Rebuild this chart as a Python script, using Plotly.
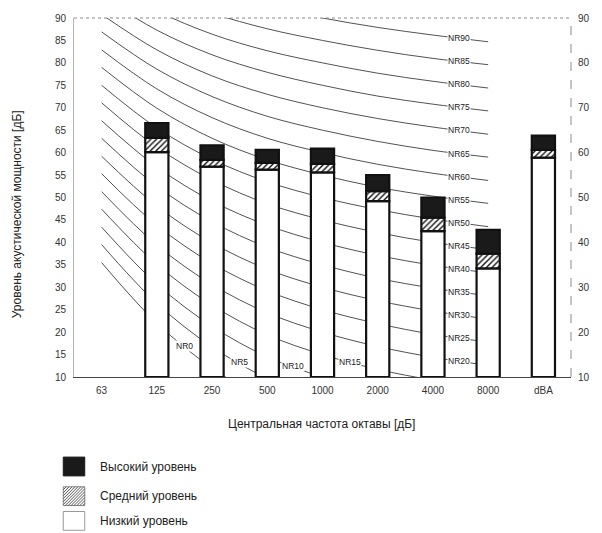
import plotly.graph_objects as go

# ---------------- data ----------------
categories = ["63", "125", "250", "500", "1000", "2000", "4000", "8000", "dBA"]

# stacked levels (top of each band, dB); no bar at 63 Hz
low_level = [None, 60.1, 56.9, 56.2, 55.6, 49.2, 42.5, 34.2, 58.9]
mid_level = [None, 63.3, 58.4, 57.7, 57.5, 51.4, 45.5, 37.5, 60.6]
high_level = [None, 66.6, 61.6, 60.6, 60.9, 55.0, 50.0, 42.8, 63.8]

# NR curves: sound level per octave band 63..8000 Hz
nr_names = ["NR0", "NR5", "NR10", "NR15", "NR20", "NR25", "NR30", "NR35", "NR40",
            "NR45", "NR50", "NR55", "NR60", "NR65", "NR70", "NR75", "NR80", "NR85", "NR90"]
nr_table = [
    [35.5, 22.0, 12.0, 4.8, 0.0, -3.5, -6.1, -8.0],
    [39.5, 26.4, 16.7, 9.7, 5.0, 1.6, -1.0, -2.9],
    [43.4, 30.7, 21.3, 14.5, 10.0, 6.7, 4.2, 2.3],
    [47.4, 35.1, 26.0, 19.4, 15.0, 11.7, 9.3, 7.5],
    [51.3, 39.4, 30.6, 24.3, 20.0, 16.8, 14.4, 12.6],
    [55.3, 43.8, 35.3, 29.2, 25.0, 21.9, 19.5, 17.8],
    [59.2, 48.1, 39.9, 34.0, 30.0, 27.0, 24.7, 22.9],
    [63.2, 52.5, 44.6, 38.9, 35.0, 32.0, 29.8, 28.1],
    [67.1, 56.8, 49.2, 43.8, 40.0, 37.1, 34.9, 33.2],
    [71.1, 61.2, 53.9, 48.6, 45.0, 42.2, 40.0, 38.4],
    [75.0, 65.5, 58.5, 53.5, 50.0, 47.3, 45.2, 43.5],
    [79.0, 69.9, 63.2, 58.4, 55.0, 52.3, 50.3, 48.7],
    [82.9, 74.2, 67.8, 63.2, 60.0, 57.4, 55.4, 53.8],
    [86.9, 78.6, 72.5, 68.1, 65.0, 62.5, 60.5, 59.0],
    [90.8, 82.9, 77.1, 73.0, 70.0, 67.6, 65.7, 64.1],
    [94.8, 87.3, 81.8, 77.9, 75.0, 72.6, 70.8, 69.3],
    [98.7, 91.6, 86.4, 82.7, 80.0, 77.7, 75.9, 74.4],
    [102.7, 96.0, 91.1, 87.6, 85.0, 82.8, 81.0, 79.6],
    [106.6, 100.3, 95.7, 92.5, 90.0, 87.9, 86.2, 84.7],
]
# band index (between two octaves) where each curve carries its label
nr_label_pos = [1.5, 2.49, 3.46, 4.5] + [6.47] * 15

y_title = "Уровень акустической мощности [дБ]"
x_title = "Центральная частота октавы [дБ]"
legend_names = ["Высокий уровень", "Средний уровень", "Низкий уровень"]

FONT = "Liberation Sans, Arial, sans-serif"
TXT = "#333333"

fig = go.Figure()

# ---------------- NR curves (main axes, drawn under the bars) ----------------
band_x = list(range(8))
for name, vals in zip(nr_names, nr_table):
    fig.add_trace(go.Scatter(
        x=band_x, y=vals, mode="lines",
        line=dict(color="#262626", width=0.8, shape="spline", smoothing=1.0),
        hoverinfo="skip", showlegend=False, xaxis="x", yaxis="y"))

annotations = []
for name, vals, pos in zip(nr_names, nr_table, nr_label_pos):
    i = int(pos)
    f = pos - i
    yv = vals[i] * (1 - f) + vals[i + 1] * f
    annotations.append(dict(
        x=pos, y=yv, xref="x", yref="y", text=name, showarrow=False,
        font=dict(family=FONT, size=8.5, color="#222"),
        bgcolor="white", borderpad=0, xanchor="center", yanchor="middle"))

# ---------------- stacked bars (overlay axes so they sit above curves) ----------------
idx = [i for i, v in enumerate(high_level) if v is not None]
bar_w = 0.42
line_spec = dict(color="#111", width=2.2)

fig.add_trace(go.Bar(
    x=idx, base=[10] * len(idx), y=[low_level[i] - 10 for i in idx],
    width=bar_w, marker=dict(color="white", line=line_spec),
    showlegend=False, hoverinfo="skip", xaxis="x2", yaxis="y2"))
fig.add_trace(go.Bar(
    x=idx, base=[low_level[i] for i in idx], y=[mid_level[i] - low_level[i] for i in idx],
    width=bar_w,
    marker=dict(color="white", line=line_spec,
                pattern=dict(shape="/", fgcolor="#111", bgcolor="white",
                             size=4, solidity=0.35, fillmode="replace")),
    showlegend=False, hoverinfo="skip", xaxis="x2", yaxis="y2"))
fig.add_trace(go.Bar(
    x=idx, base=[mid_level[i] for i in idx], y=[high_level[i] - mid_level[i] for i in idx],
    width=bar_w, marker=dict(color="#1a1a1a", line=line_spec),
    showlegend=False, hoverinfo="skip", xaxis="x2", yaxis="y2"))

# ---------------- custom legend ----------------
W, H = 602, 533
ml, mr, mt, mb = 74, 19, 14, 156
pw, ph = W - ml - mr, H - mt - mb


def px(xp):
    return (xp - ml) / pw


def py(yp):
    return (H - mb - yp) / ph


shapes = []
# frame: dotted top, dashed right
shapes.append(dict(type="line", xref="paper", yref="paper", x0=0, x1=1, y0=1, y1=1,
                   line=dict(color="#8a8a8a", width=1, dash="dot")))
shapes.append(dict(type="line", xref="paper", yref="paper", x0=1, x1=1, y0=0, y1=1,
                   line=dict(color="#8a8a8a", width=1, dash="dash")))

sw_x0, sw_x1 = 63, 85
sw_rows = [(458, 477), (488, 507), (513, 532)]
# black swatch
shapes.append(dict(type="rect", xref="paper", yref="paper",
                   x0=px(sw_x0), x1=px(sw_x1), y0=py(sw_rows[0][1]), y1=py(sw_rows[0][0]),
                   fillcolor="#1a1a1a", line=dict(color="#1a1a1a", width=1)))
# hatched swatch
y0, y1 = sw_rows[1]
shapes.append(dict(type="rect", xref="paper", yref="paper",
                   x0=px(sw_x0), x1=px(sw_x1), y0=py(y1), y1=py(y0),
                   fillcolor="white", line=dict(color="#888", width=1)))
path = ""
hgt = y1 - y0
for k in range(-hgt, sw_x1 - sw_x0, 3):
    xa, ya = sw_x0 + k, y1
    xb, yb = sw_x0 + k + hgt, y0
    if xa < sw_x0:
        ya = y1 - (sw_x0 - xa); xa = sw_x0
    if xb > sw_x1:
        yb = y0 + (xb - sw_x1); xb = sw_x1
    path += f"M{px(xa)},{py(ya)} L{px(xb)},{py(yb)} "
shapes.append(dict(type="path", xref="paper", yref="paper", path=path,
                   line=dict(color="#444", width=0.9)))
# white swatch
shapes.append(dict(type="rect", xref="paper", yref="paper",
                   x0=px(sw_x0), x1=px(sw_x1), y0=py(sw_rows[2][1]), y1=py(sw_rows[2][0]),
                   fillcolor="white", line=dict(color="#999", width=1)))

for name, (r0, r1) in zip(legend_names, sw_rows):
    annotations.append(dict(x=px(99), y=py((r0 + r1) / 2), xref="paper", yref="paper",
                            text=name, showarrow=False, xanchor="left", yanchor="middle",
                            font=dict(family=FONT, size=12, color="#222")))

# axis titles
annotations.append(dict(x=px(15), y=py(212), xref="paper", yref="paper", text=y_title,
                        textangle=-90, showarrow=False, xanchor="center", yanchor="middle",
                        font=dict(family=FONT, size=12, color="#222")))
annotations.append(dict(x=px(327), y=py(425), xref="paper", yref="paper", text=x_title,
                        showarrow=False, xanchor="center", yanchor="middle",
                        font=dict(family=FONT, size=12, color="#222")))

tickfont = dict(family=FONT, size=10, color=TXT)
fig.update_layout(
    width=W, height=H,
    margin=dict(l=ml, r=mr, t=mt, b=mb, pad=0),
    paper_bgcolor="white", plot_bgcolor="white",
    barmode="overlay", bargap=0,
    showlegend=False,
    xaxis=dict(range=[-0.5, 8.5], tickmode="array", tickvals=list(range(9)), ticktext=categories,
               showgrid=False, zeroline=False, showline=True, linecolor="#444", linewidth=1,
               ticks="", tickfont=tickfont, ticklabelstandoff=4, fixedrange=True),
    yaxis=dict(range=[10, 90], tick0=10, dtick=5, showgrid=False, zeroline=False,
               showline=True, linecolor="#b5b5b5", linewidth=1, ticks="",
               tickfont=tickfont, ticklabelstandoff=5, fixedrange=True),
    xaxis2=dict(range=[-0.5, 8.5], overlaying="x", anchor="y2", visible=False, fixedrange=True),
    yaxis2=dict(range=[10, 90], tick0=10, dtick=10, overlaying="y", anchor="x2", side="right",
                showgrid=False, zeroline=False, showline=False, ticks="",
                tickfont=tickfont, ticklabelstandoff=6, fixedrange=True),
    shapes=shapes,
    annotations=annotations,
)

fig.write_html(
    "out.html",
    config={"displayModeBar": False, "staticPlot": True},
    post_script="document.body.style.margin='0px';document.body.style.overflow='hidden';",
)
